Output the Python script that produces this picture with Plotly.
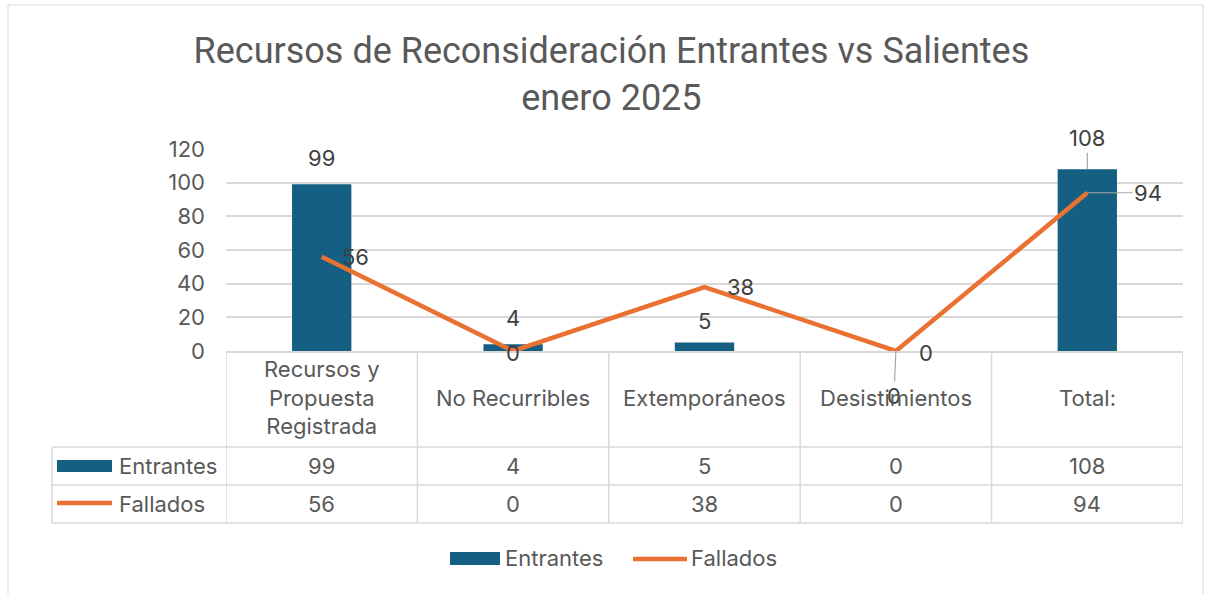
import plotly.graph_objects as go

# ---------------- data ----------------
categories = ["Recursos y Propuesta Registrada", "No Recurribles", "Extemporáneos",
              "Desistimientos", "Total:"]
header_labels = ["Recursos y<br>Propuesta<br>Registrada", "No Recurribles", "Extemporáneos",
                 "Desistimientos", "Total:"]
entrantes = [99, 4, 5, 0, 108]
fallados = [56, 0, 38, 0, 94]
y_ticks = [0, 20, 40, 60, 80, 100, 120]
title_text = "Recursos de Reconsideración Entrantes vs Salientes<br>enero 2025"
series_names = ["Entrantes", "Fallados"]

# ---------------- style ----------------
W, H = 1206, 594
BLUE = "#156082"
ORANGE = "#E97132"
GRID = "#D9D9D9"
TXT = "#595959"
LBL = "#404040"
FONT = "Inter, Open Sans, sans-serif"
TITLE_FONT = "Roboto, Open Sans, sans-serif"
FS = 22


def py(p):
    return (H - p) / H


def px(p):
    return p / W


# label placement (pixel offsets) per category
bar_lbl = [dict(yshift=26), dict(yshift=26), dict(yshift=22),
           dict(arrow=(-2, 45)), dict(arrow=(0, -31))]
line_lbl = [dict(xshift=34, yshift=0), dict(xshift=0, yshift=-2), dict(xshift=36, yshift=0),
            dict(xshift=30, yshift=-2), dict(arrow=(61, 0))]

fig = go.Figure()
fig.add_trace(go.Bar(x=categories, y=entrantes, name=series_names[0],
                     marker=dict(color=BLUE, line=dict(width=0))))
fig.add_trace(go.Scatter(x=categories, y=fallados, name=series_names[1], mode="lines",
                         line=dict(color=ORANGE, width=4.5)))

annotations = []
lab_font = dict(family=FONT, size=FS, color=LBL)
for series, specs in ((entrantes, bar_lbl), (fallados, line_lbl)):
    for cat, v, spec in zip(categories, series, specs):
        if "arrow" in spec:
            ax, ay = spec["arrow"]
            annotations.append(dict(x=cat, y=v, xref="x", yref="y", text=str(v), showarrow=True,
                                    ax=ax, ay=ay, arrowhead=0, arrowwidth=1.2,
                                    arrowcolor="#A6A6A6", standoff=0, font=lab_font))
        else:
            annotations.append(dict(x=cat, y=v, xref="x", yref="y", text=str(v), showarrow=False,
                                    xshift=spec.get("xshift", 0), yshift=spec.get("yshift", 0),
                                    font=lab_font))

# data table text
tfont = dict(family=FONT, size=FS, color=TXT)
for cat, hl, e, f in zip(categories, header_labels, entrantes, fallados):
    annotations.append(dict(x=cat, xref="x", y=py(398), yref="paper", text=hl, showarrow=False,
                            font=tfont, align="center", yanchor="middle"))
    annotations.append(dict(x=cat, xref="x", y=py(466), yref="paper", text=str(e), showarrow=False,
                            font=tfont, yanchor="middle"))
    annotations.append(dict(x=cat, xref="x", y=py(504), yref="paper", text=str(f), showarrow=False,
                            font=tfont, yanchor="middle"))
for name, yy in zip(series_names, (466, 504)):
    annotations.append(dict(x=px(117), xref="paper", y=py(yy), yref="paper", text=name,
                            showarrow=False, font=tfont, xanchor="left", yanchor="middle"))

# bottom legend text
for name, xx in zip(series_names, (503, 689)):
    annotations.append(dict(x=px(xx), xref="paper", y=py(558), yref="paper", text=name,
                            showarrow=False, font=tfont, xanchor="left", yanchor="middle"))

shapes = []
# outer chart border
shapes.append(dict(type="rect", xref="paper", yref="paper", x0=px(8), x1=px(1203), y0=py(600),
                   y1=py(5), line=dict(color=GRID, width=1)))
# table vertical lines
for i in range(len(categories) + 1):
    shapes.append(dict(type="line", xref="x", yref="paper", x0=i - 0.5, x1=i - 0.5,
                       y0=py(351), y1=py(523), line=dict(color=GRID, width=1.5)))
shapes.append(dict(type="line", xref="paper", yref="paper", x0=px(52), x1=px(52),
                   y0=py(447), y1=py(523), line=dict(color=GRID, width=1.5)))
for yy in (447, 485, 523):
    shapes.append(dict(type="line", xref="paper", yref="paper", x0=px(52), x1=px(1183),
                       y0=py(yy), y1=py(yy), line=dict(color=GRID, width=1.5)))
# legend keys inside the table
shapes.append(dict(type="rect", xref="paper", yref="paper", x0=px(57), x1=px(112),
                   y0=py(472), y1=py(460), fillcolor=BLUE, line=dict(width=0)))
shapes.append(dict(type="line", xref="paper", yref="paper", x0=px(57), x1=px(112),
                   y0=py(503), y1=py(503), line=dict(color=ORANGE, width=4.5)))
# bottom legend keys
shapes.append(dict(type="rect", xref="paper", yref="paper", x0=px(450), x1=px(500),
                   y0=py(565), y1=py(552), fillcolor=BLUE, line=dict(width=0)))
shapes.append(dict(type="line", xref="paper", yref="paper", x0=px(633), x1=px(687),
                   y0=py(559), y1=py(559), line=dict(color=ORANGE, width=4.5)))

fig.update_layout(
    width=W, height=H,
    margin=dict(l=0, r=0, t=0, b=0, autoexpand=False),
    paper_bgcolor="white", plot_bgcolor="white",
    title=dict(text=title_text, x=0.507, xanchor="center", y=py(63), yanchor="middle",
               font=dict(family=TITLE_FONT, size=36, color=TXT)),
    bargap=0.69,
    xaxis=dict(domain=[px(226), px(1183)], showticklabels=False, showgrid=False,
               showline=True, linecolor=GRID, linewidth=1.5, ticks="", automargin=False,
               range=[-0.5, len(categories) - 0.5], fixedrange=True),
    yaxis=dict(domain=[py(351), py(149)], range=[0, 120], tickvals=y_ticks,
               showgrid=True, gridcolor=GRID, gridwidth=1.5, zeroline=False,
               showline=False, ticks="", ticklabelstandoff=20, automargin=False,
               tickfont=dict(family=FONT, size=FS, color=TXT)),
    annotations=annotations,
    shapes=shapes,
    showlegend=False,
)

fig.write_html(
    "out.html",
    config={"displayModeBar": False},
    post_script=(
        "document.body.style.margin='0';"
        "var d=document.getElementById('{plot_id}');"
        "d.style.position='fixed';d.style.top='0';d.style.left='0';"
    ),
)
